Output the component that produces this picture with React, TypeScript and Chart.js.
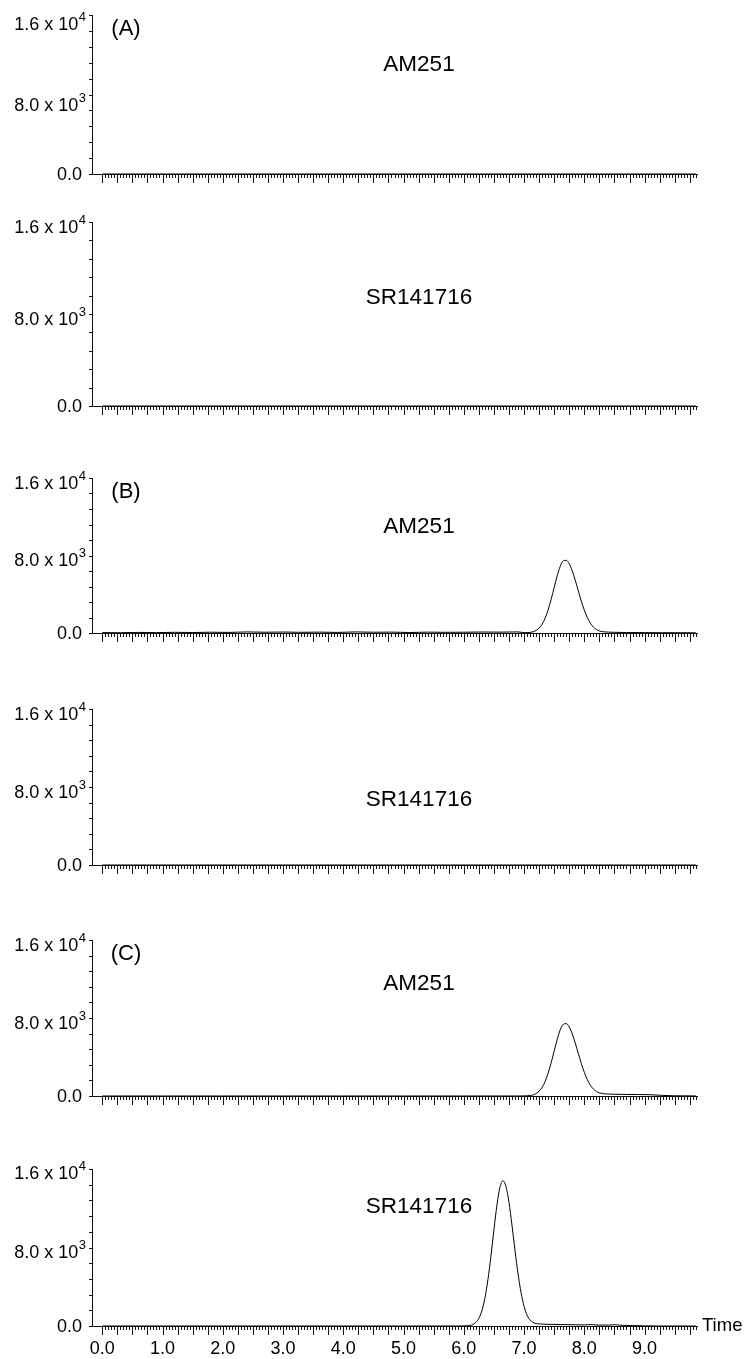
import React, { useEffect, useRef } from "react";
import { Chart, registerables } from "chart.js";

Chart.register(...registerables);

// ---------- data ----------
const X_TICK_LABELS = ["0.0", "1.0", "2.0", "3.0", "4.0", "5.0", "6.0", "7.0", "8.0", "9.0"];
const Y_TICK_VALUES = [0, 8000, 16000];
const Y_TICK_MANTISSA = ["0.0", "8.0 x 10", "1.6 x 10"];
const Y_TICK_EXPONENT = ["", "3", "4"];
const PANEL_LETTERS = ["(A)", "", "(B)", "", "(C)", ""];
const PANEL_COMPOUNDS = ["AM251", "SR141716", "AM251", "SR141716", "AM251", "SR141716"];

const EMPTY_TIME = [0.0, 9.85];
const EMPTY_VALUES = [0, 0];

const AM251_B_TIME = [
  0.0, 0.3, 0.6, 0.9, 1.2, 1.5, 1.8, 2.1, 2.4, 2.7, 3.0, 3.3, 3.6, 3.9, 4.2, 4.5, 4.8, 5.1, 5.4, 5.7,
  6.0, 6.3, 6.6, 6.9, 7.0, 7.05, 7.1, 7.15, 7.2, 7.25, 7.3, 7.35, 7.4, 7.45, 7.5, 7.55, 7.6, 7.65, 7.7,
  7.75, 7.8, 7.85, 7.9, 7.95, 8.0, 8.05, 8.1, 8.15, 8.2, 8.25, 8.3, 8.4, 8.5, 8.7, 9.0, 9.3, 9.6, 9.85,
];
const AM251_B_VALUES = [
  40, 30, 60, 40, 70, 50, 80, 60, 110, 80, 100, 70, 90, 60, 110, 80, 90, 50, 90, 70,
  80, 100, 90, 110, 40, 40, 60, 125, 262, 507, 915, 1540, 2400, 3490, 4700, 5900, 6880, 7450, 7500,
  7140, 6410, 5440, 4360, 3300, 2360, 1600, 1020, 620, 360, 210, 140, 90, 70, 50, 40, 30, 30, 20,
];

const AM251_C_TIME = [
  0.0, 1.0, 2.0, 3.0, 4.0, 5.0, 6.0, 6.9, 7.0, 7.05, 7.1, 7.15, 7.2, 7.25, 7.3, 7.35, 7.4, 7.45, 7.5,
  7.55, 7.6, 7.65, 7.7, 7.75, 7.8, 7.85, 7.9, 7.95, 8.0, 8.05, 8.1, 8.15, 8.2, 8.25, 8.3, 8.4, 8.5, 8.7,
  8.9, 9.1, 9.3, 9.5, 9.85,
];
const AM251_C_VALUES = [
  0, 0, 0, 0, 0, 0, 0, 0, 10, 20, 50, 110, 250, 490, 890, 1500, 2350, 3420, 4620,
  5800, 6780, 7350, 7420, 7080, 6360, 5420, 4370, 3340, 2420, 1680, 1110, 720, 460, 320, 250, 200, 180, 160,
  150, 130, 60, 20, 10,
];

const SR_C_TIME = [
  0.0, 1.0, 2.0, 3.0, 4.0, 5.0, 5.9, 6.0, 6.05, 6.1, 6.15, 6.2, 6.25, 6.3, 6.35, 6.4, 6.45, 6.5, 6.55,
  6.6, 6.65, 6.7, 6.75, 6.8, 6.85, 6.9, 6.95, 7.0, 7.05, 7.1, 7.15, 7.2, 7.3, 7.5, 7.8, 8.0, 8.1, 8.2,
  8.4, 8.5, 8.6, 8.8, 9.0, 9.2, 9.85,
];
const SR_C_VALUES = [
  0, 0, 0, 0, 0, 0, 0, 10, 20, 57, 150, 360, 782, 1560, 2830, 4700, 7100, 9790, 12320,
  14140, 14800, 14210, 12580, 10250, 7700, 5330, 3400, 2000, 1100, 600, 360, 250, 190, 160, 130, 110, 150, 100,
  90, 130, 80, 40, 20, 0, 0,
];

const SERIES_TIME = [EMPTY_TIME, EMPTY_TIME, AM251_B_TIME, EMPTY_TIME, AM251_C_TIME, SR_C_TIME];
const SERIES_VALUES = [EMPTY_VALUES, EMPTY_VALUES, AM251_B_VALUES, EMPTY_VALUES, AM251_C_VALUES, SR_C_VALUES];

// ---------- layout ----------
const W = 745;
const H = 1359;
const AXIS_LEFT = 92;
const AXIS_RIGHT = 697;
const PAD_TOP = 15;
const PANEL_TOP = [15, 222, 478, 709, 940, 1169];
const PANEL_BASE = [174, 406, 633, 865, 1096, 1326];
const COMPOUND_Y = [65, 298, 527, 800, 984, 1207];
const EXP_LABEL_OFFSET = [
  [1, 12, 10],
  [1, 6, 6],
  [1, 6, 6],
  [1, 6, 6],
  [1, 6, 6],
  [1, 5.5, 5.5],
];
const X_MIN = -0.17;
const X_MAX = 9.87;
const FONT = "'Liberation Sans', Arial, Helvetica, sans-serif";
const AXIS_COLOR = "#111";

function Panel({ index }: { index: number }) {
  const ref = useRef<HTMLCanvasElement | null>(null);
  const isLast = index === 5;
  const plotTop = PANEL_TOP[index];
  const plotH = PANEL_BASE[index] - plotTop;
  const canvasTop = plotTop - PAD_TOP;
  const canvasH = isLast ? H - canvasTop : PANEL_BASE[index] + 30 - canvasTop;

  useEffect(() => {
    if (!ref.current) return;
    const times = SERIES_TIME[index];
    const vals = SERIES_VALUES[index];
    const decor = {
      id: "decor" + index,
      afterDraw(chart: any) {
        const ctx = chart.ctx as CanvasRenderingContext2D;
        const xs = chart.scales.x;
        const ys = chart.scales.y;
        const ca = chart.chartArea;
        ctx.save();
        ctx.strokeStyle = AXIS_COLOR;
        ctx.lineWidth = 1;
        // x ticks
        for (let k = 0; k * 0.05 <= X_MAX + 1e-9; k++) {
          const t = k * 0.05;
          const px = Math.round(xs.getPixelForValue(t)) + 0.5;
          const len = k % 5 === 0 ? 9 : 4;
          ctx.beginPath();
          ctx.moveTo(px, ca.bottom);
          ctx.lineTo(px, ca.bottom + len);
          ctx.stroke();
        }
        // y ticks
        for (let v = 0; v <= 16000; v += 1600) {
          const py = Math.round(ys.getPixelForValue(v)) + 0.5;
          ctx.beginPath();
          ctx.moveTo(ca.left - 3, py);
          ctx.lineTo(ca.left, py);
          ctx.stroke();
        }
        ctx.fillStyle = "#000";
        // y labels
        for (let i = 0; i < Y_TICK_VALUES.length; i++) {
          const py = ys.getPixelForValue(Y_TICK_VALUES[i]);
          const exp = Y_TICK_EXPONENT[i];
          const off = EXP_LABEL_OFFSET[index][i];
          ctx.textBaseline = "middle";
          ctx.textAlign = "right";
          if (exp) {
            ctx.font = `13px ${FONT}`;
            ctx.fillText(exp, 86, py + off - 8);
            const ew = ctx.measureText(exp).width;
            ctx.font = `18px ${FONT}`;
            ctx.fillText(Y_TICK_MANTISSA[i], 86 - ew - 0.5, py + off);
          } else {
            ctx.font = `18px ${FONT}`;
            ctx.fillText(Y_TICK_MANTISSA[i], 82, py + off);
          }
        }
        // panel letter
        if (PANEL_LETTERS[index]) {
          ctx.font = `22px ${FONT}`;
          ctx.textAlign = "center";
          ctx.fillText(PANEL_LETTERS[index], 126, ca.top + 14);
        }
        // compound
        ctx.font = `22.5px ${FONT}`;
        ctx.textAlign = "center";
        ctx.fillText(PANEL_COMPOUNDS[index], 419, COMPOUND_Y[index] - canvasTop);
        if (isLast) {
          ctx.font = `18px ${FONT}`;
          ctx.textAlign = "center";
          for (const lab of X_TICK_LABELS) {
            const px = xs.getPixelForValue(parseFloat(lab));
            ctx.fillText(lab, px, ca.bottom + 23);
          }
          ctx.textAlign = "left";
          ctx.font = `18.5px ${FONT}`;
          ctx.fillText("Time", 702, ca.bottom);
        }
        ctx.restore();
      },
    };
    const chart = new Chart(ref.current, {
      type: "line",
      data: {
        datasets: [
          {
            data: times.map((t, i) => ({ x: t, y: vals[i] })),
            borderColor: "#000",
            borderWidth: 1,
            pointRadius: 0,
            cubicInterpolationMode: "monotone",
            fill: false,
          },
        ],
      },
      options: {
        animation: false,
        responsive: false,
        layout: { padding: { top: PAD_TOP, right: W - AXIS_RIGHT, left: 0, bottom: 0 } },
        plugins: { legend: { display: false }, tooltip: { enabled: false } },
        scales: {
          x: {
            type: "linear",
            min: X_MIN,
            max: X_MAX,
            ticks: { display: false },
            grid: { display: false },
            border: { display: true, color: AXIS_COLOR, width: 1 },
            afterFit: (s: any) => {
              s.height = canvasH - PAD_TOP - plotH;
            },
          },
          y: {
            type: "linear",
            min: 0,
            max: 16000,
            ticks: { display: false },
            grid: { display: false },
            border: { display: true, color: AXIS_COLOR, width: 1 },
            afterFit: (s: any) => {
              s.width = AXIS_LEFT;
            },
          },
        },
      } as any,
      plugins: [decor],
    });
    return () => chart.destroy();
  }, []);

  return (
    <canvas
      ref={ref}
      width={W}
      height={canvasH}
      style={{ position: "absolute", left: 0, top: canvasTop, width: W, height: canvasH }}
    />
  );
}

export default function App() {
  return (
    <div
      style={{
        position: "fixed",
        left: 0,
        top: 0,
        width: W,
        height: H,
        background: "#fff",
        overflow: "hidden",
      }}
    >
      {[0, 1, 2, 3, 4, 5].map((i) => (
        <Panel key={i} index={i} />
      ))}
    </div>
  );
}
